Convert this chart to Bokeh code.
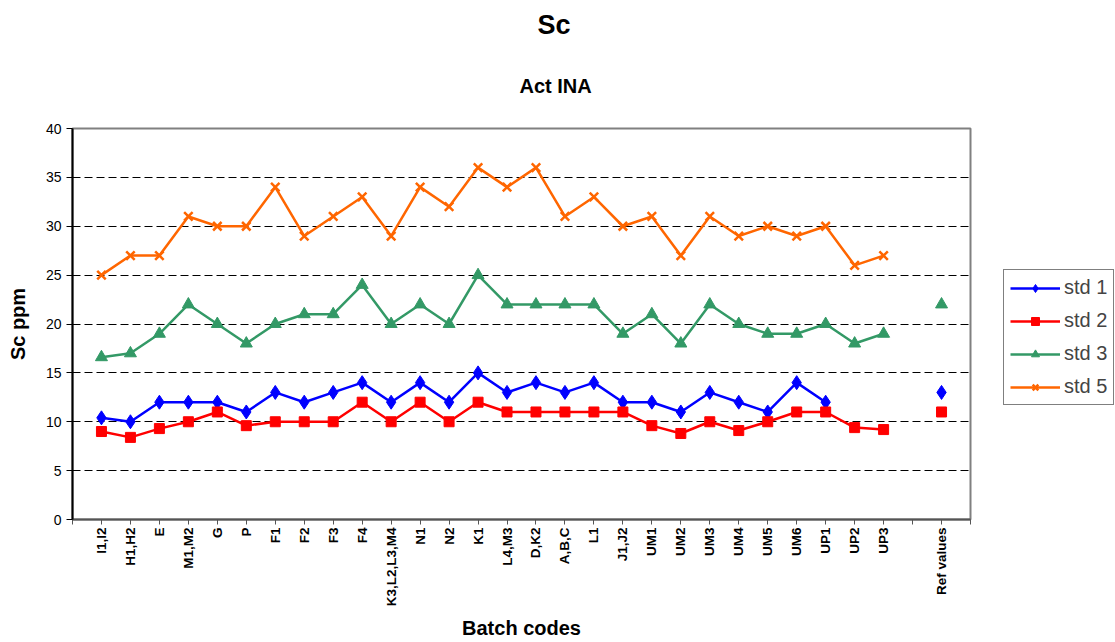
import math
from bokeh.plotting import figure
from bokeh.models import Range1d, FixedTicker, Title, Legend, LegendItem
from bokeh.embed import file_html
from bokeh.resources import INLINE

# ---- data ----
batches = ["I1,I2", "H1,H2", "E", "M1,M2", "G", "P", "F1", "F2", "F3", "F4",
           "K3,L2,L3,M4", "N1", "N2", "K1", "L4,M3", "D,K2", "A,B,C", "L1", "J1,J2",
           "UM1", "UM2", "UM3", "UM4", "UM5", "UM6", "UP1", "UP2", "UP3"]
ref_label = "Ref values"

std1 = [10.4, 10, 12, 12, 12, 11, 13, 12, 13, 14, 12, 14, 12, 15, 13, 14, 13, 14, 12,
        12, 11, 13, 12, 11, 14, 12, None, None]
std2 = [9.0, 8.4, 9.3, 10, 11, 9.6, 10, 10, 10, 12, 10, 12, 10, 12, 11, 11, 11, 11, 11,
        9.6, 8.8, 10, 9.1, 10, 11, 11, 9.4, 9.2]
std3 = [16.6, 17, 19, 22, 20, 18, 20, 21, 21, 24, 20, 22, 20, 25, 22, 22, 22, 22, 19,
        21, 18, 22, 20, 19, 19, 20, 18, 19]
std5 = [25, 27, 27, 31, 30, 30, 34, 29, 31, 33, 29, 34, 32, 36, 34, 36, 31, 33, 30,
        31, 27, 31, 29, 30, 29, 30, 26, 27]

ref_std1 = 13
ref_std2 = 11
ref_std3 = 22
ref_std5 = None

series_names = ["std 1", "std 2", "std 3", "std 5"]
series_vals = [std1, std2, std3, std5]
ref_vals = [ref_std1, ref_std2, ref_std3, ref_std5]

# ---- positions: categories 1..N, a gap, then the reference column ----
n = len(batches)
cat_x = list(range(1, n + 1))
ref_x = n + 2
x_end = n + 3
xs = cat_x + [n + 1, ref_x]

def to_y(vals, ref):
    out = [float("nan") if v is None else v for v in vals]
    out.append(float("nan"))
    out.append(float("nan") if ref is None else ref)
    return out

FONT = "Liberation Sans"

p = figure(frame_width=898, frame_height=391, output_backend="svg",
           toolbar_location=None,
           x_range=Range1d(0, x_end), y_range=Range1d(0, 40),
           min_border_left=72, min_border_right=145, min_border_top=128,
           min_border_bottom=123)
p.background_fill_color = "white"
p.border_fill_color = "white"
p.outline_line_color = "#808080"
p.outline_line_width = 2

# titles
t_sub = Title(text="Act INA", align="left", text_font=FONT, text_font_size="20px",
              text_font_style="bold", text_color="black", standoff=63, offset=447)
t_main = Title(text="Sc", align="left", text_font=FONT, text_font_size="27px",
               text_font_style="bold", text_color="black", standoff=3, offset=465)
p.add_layout(t_sub, "above")
p.add_layout(t_main, "above")

styles = [
    dict(color="#0000FF", marker="diamond", size=14, lw=2.5),
    dict(color="#FF0000", marker="square", size=10, lw=2.5),
    dict(color="#339966", marker="triangle", size=12, lw=2.5),
    dict(color="#FF6600", marker="x", size=12, lw=2.5),
]

items = []
for name, vals, ref, st in zip(series_names, series_vals, ref_vals, styles):
    ys = to_y(vals, ref)
    r1 = p.line(xs, ys, line_color=st["color"], line_width=st["lw"])
    if st["marker"] == "x":
        r2 = p.scatter(xs, ys, marker="x", size=st["size"], line_color=st["color"],
                       line_width=2.5)
    else:
        r2 = p.scatter(xs, ys, marker=st["marker"], size=st["size"],
                       fill_color=st["color"], line_color=st["color"])
    items.append(LegendItem(label=name, renderers=[r1, r2]))

legend = Legend(items=items, location=(33, 114), label_text_font=FONT,
                label_text_font_size="20px", glyph_width=50, glyph_height=20,
                label_height=20, spacing=10, padding=6, margin=0,
                label_standoff=4, border_line_color="black", border_line_width=1,
                background_fill_color="white")
p.add_layout(legend, "right")

# axes
p.xaxis.ticker = FixedTicker(ticks=list(range(0, x_end + 1)))
overrides = {i: "" for i in range(0, x_end + 1)}
for xi, lab in zip(cat_x, batches):
    overrides[xi] = lab
overrides[ref_x] = ref_label
p.xaxis.major_label_overrides = overrides
p.xaxis.major_label_orientation = math.pi / 2
p.xaxis.major_label_text_font = FONT
p.xaxis.major_label_text_font_size = "13.5px"
p.xaxis.major_label_text_font_style = "bold"
p.xaxis.major_label_text_color = "black"
p.xaxis.major_label_standoff = 3
p.xaxis.minor_tick_line_color = None
p.xaxis.major_tick_out = 5
p.xaxis.major_tick_in = 0
p.xaxis.axis_line_color = "#555555"
p.xaxis.axis_line_width = 2
p.xaxis.major_tick_line_color = "#555555"
p.xaxis.axis_label = "Batch codes"
p.xaxis.axis_label_text_font = FONT
p.xaxis.axis_label_text_font_size = "20px"
p.xaxis.axis_label_text_font_style = "bold"
p.xaxis.axis_label_text_color = "black"
p.xaxis.axis_label_standoff = 8

ya = p.yaxis[0]
ya.ticker = FixedTicker(ticks=list(range(0, 41, 5)))
ya.major_label_text_font = FONT
ya.major_label_text_font_size = "14px"
ya.major_label_text_color = "black"
ya.major_label_standoff = 5
ya.minor_tick_line_color = None
ya.major_tick_out = 6
ya.major_tick_in = 0
ya.axis_line_color = "black"
ya.axis_line_width = 2
ya.axis_label = "Sc ppm"
ya.axis_label_text_font = FONT
ya.axis_label_text_font_size = "20px"
ya.axis_label_text_font_style = "bold"
ya.axis_label_text_color = "black"
ya.axis_label_standoff = 14

p.xgrid.grid_line_color = None
p.ygrid.grid_line_color = "black"
p.ygrid.grid_line_dash = "8 4"
p.ygrid.grid_line_width = 1

open("out.html", "w").write(file_html(p, INLINE))
